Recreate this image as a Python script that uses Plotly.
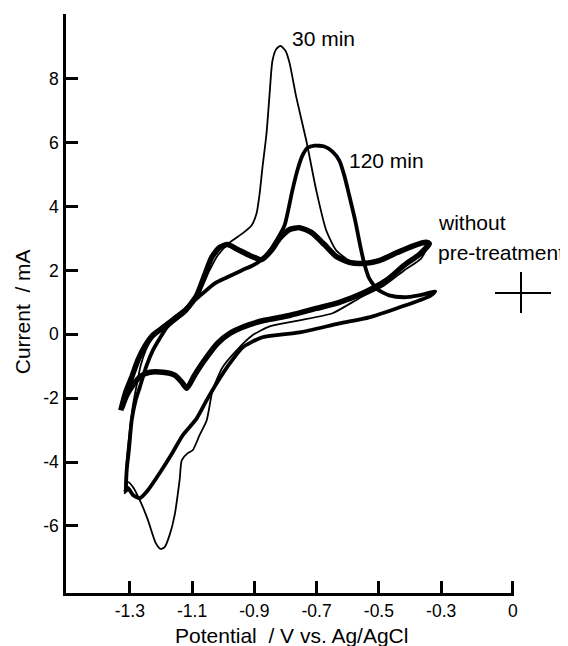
import plotly.graph_objects as go

# ---- data ----
# without pre-treatment (thick)
wo_x = [-1.329, -1.313, -1.294, -1.274, -1.252, -1.226, -1.188, -1.124, -1.085, -1.060, -1.037, -1.012,
        -0.986, -0.954, -0.915, -0.877, -0.845, -0.819, -0.787, -0.755, -0.717, -0.675, -0.637, -0.595,
        -0.547, -0.499, -0.441, -0.387, -0.348, -0.338,
        -0.370, -0.419, -0.476, -0.547, -0.627, -0.701, -0.787, -0.867, -0.931, -0.979, -1.018, -1.060,
        -1.092, -1.117, -1.133, -1.156, -1.194, -1.236, -1.265, -1.290, -1.310, -1.326]
wo_y = [-2.38, -1.81, -1.34, -0.81, -0.38, -0.03, 0.25, 0.72, 1.22, 1.84, 2.41, 2.72,
        2.81, 2.66, 2.47, 2.34, 2.63, 3.00, 3.28, 3.34, 3.19, 2.81, 2.44, 2.25,
        2.22, 2.31, 2.56, 2.78, 2.88, 2.84,
        2.50, 2.16, 1.69, 1.31, 1.00, 0.81, 0.59, 0.44, 0.25, 0.03, -0.28, -0.81,
        -1.28, -1.69, -1.50, -1.28, -1.19, -1.19, -1.31, -1.59, -1.91, -2.31]

# 120 min (medium)
m120_x = [-1.313, -1.310, -1.303, -1.294, -1.281, -1.268, -1.246, -1.226, -1.204, -1.181, -1.149, -1.108,
          -1.066, -1.028, -0.989, -0.941, -0.893, -0.861, -0.829, -0.803, -0.778, -0.762, -0.746, -0.729,
          -0.707, -0.675, -0.649, -0.627, -0.611, -0.595, -0.576, -0.560, -0.547, -0.531, -0.505, -0.467,
          -0.419, -0.371, -0.319,
          -0.338, -0.435, -0.531, -0.627, -0.755, -0.874, -0.938, -0.979, -1.021, -1.053, -1.085, -1.130,
          -1.162, -1.204, -1.242, -1.268, -1.290, -1.306, -1.316]
m120_y = [-4.94, -4.25, -3.63, -2.69, -2.06, -1.66, -0.97, -0.50, -0.13, 0.22, 0.50, 0.91,
          1.28, 1.59, 1.78, 2.00, 2.22, 2.47, 2.94, 3.41, 4.50, 5.13, 5.59, 5.84,
          5.91, 5.88, 5.72, 5.44, 4.97, 4.34, 3.56, 2.78, 2.22, 1.75, 1.41, 1.22,
          1.16, 1.22, 1.34,
          1.19, 0.84, 0.53, 0.34, 0.06, -0.09, -0.41, -0.91, -1.53, -2.06, -2.63, -3.16,
          -3.69, -4.34, -4.88, -5.13, -5.03, -4.81, -4.94]

# 30 min (thin)
m30_x = [-1.316, -1.310, -1.300, -1.290, -1.278, -1.265, -1.249, -1.229, -1.204, -1.165, -1.124, -1.092,
         -1.066, -1.044, -1.018, -0.979, -0.938, -0.909, -0.893, -0.883, -0.874, -0.861, -0.851, -0.842,
         -0.829, -0.816, -0.800, -0.787, -0.765, -0.733, -0.701, -0.669, -0.637, -0.595, -0.547, -0.492,
         -0.435, -0.377, -0.338,
         -0.364, -0.419, -0.483, -0.563, -0.649, -0.755, -0.851, -0.906, -0.957, -1.002, -1.034, -1.053,
         -1.076, -1.098, -1.114, -1.133, -1.140, -1.156, -1.172, -1.188, -1.201, -1.217, -1.242, -1.268,
         -1.290, -1.306, -1.316]
m30_y = [-5.00, -3.94, -3.00, -2.22, -1.59, -0.97, -0.50, -0.13, 0.19, 0.50, 0.81, 1.13,
         1.53, 2.00, 2.47, 2.88, 3.16, 3.41, 3.78, 4.41, 5.22, 6.28, 7.53, 8.56,
         8.94, 9.03, 8.88, 8.50, 7.41, 6.06, 4.50, 3.25, 2.63, 2.31, 2.25, 2.38,
         2.63, 2.81, 2.91,
         2.38, 2.00, 1.53, 1.13, 0.66, 0.44, 0.25, -0.03, -0.50, -1.03, -1.75, -2.69,
         -3.16, -3.63, -3.72, -3.94, -4.56, -5.66, -6.28, -6.66, -6.72, -6.53, -5.81, -5.19,
         -4.78, -4.63, -4.88]

x_tickvals = [-1.3, -1.1, -0.9, -0.7, -0.5, -0.3, -0.07]
x_ticktext = ["-1.3", "-1.1", "-0.9", "-0.7", "-0.5", "-0.3", "0"]
y_tickvals = [-6, -4, -2, 0, 2, 4, 6, 8, 10]
y_ticktext = ["-6", "-4", "-2", "0", "2", "4", "6", "8", ""]

labels = ["30 min", "120 min", "without", "pre-treatment"]
label_x = [-0.784, -0.601, -0.316, -0.316]
label_y = [9.25, 5.44, 3.50, 2.55]

FONT = "Arial, Liberation Sans, sans-serif"

fig = go.Figure()
fig.add_trace(go.Scatter(x=wo_x, y=wo_y, mode="lines",
                         line=dict(color="black", width=5.5, shape="spline", smoothing=0.6),
                         showlegend=False, hoverinfo="skip"))
fig.add_trace(go.Scatter(x=m120_x, y=m120_y, mode="lines",
                         line=dict(color="black", width=3.8, shape="spline", smoothing=0.6),
                         showlegend=False, hoverinfo="skip"))
fig.add_trace(go.Scatter(x=m30_x, y=m30_y, mode="lines",
                         line=dict(color="black", width=1.8, shape="spline", smoothing=0.6),
                         showlegend=False, hoverinfo="skip"))

for t, lx, ly in zip(labels, label_x, label_y):
    fig.add_annotation(x=lx, y=ly, xref="x", yref="y", text=t, showarrow=False,
                       xanchor="left", yanchor="middle",
                       font=dict(family=FONT, size=21, color="black"))

# axis titles
fig.add_annotation(x=0.504, y=-0.074, xref="paper", yref="paper", text="Potential  / V vs. Ag/AgCl",
                   showarrow=False, xanchor="center", yanchor="middle",
                   font=dict(family=FONT, size=21, color="black"))
fig.add_annotation(x=-0.098, y=0.485, xref="paper", yref="paper", text="Current  / mA",
                   showarrow=False, xanchor="center", yanchor="middle", textangle=-90,
                   font=dict(family=FONT, size=21, color="black"))

# scale cross
fig.add_shape(type="line", xref="paper", yref="paper", x0=0.9576, x1=1.0826, y0=0.5181, y1=0.5181,
              line=dict(color="black", width=2))
fig.add_shape(type="line", xref="paper", yref="paper", x0=1.0156, x1=1.0156, y0=0.4836, y1=0.5544,
              line=dict(color="black", width=2))

axis_common = dict(showgrid=False, zeroline=False, showline=True, linecolor="black", linewidth=2.5,
                   ticks="inside", ticklen=12, tickwidth=2.5, tickcolor="black",
                   tickfont=dict(family=FONT, size=17.5, color="black"))

fig.update_xaxes(range=[-1.505, -0.066], tickmode="array", tickvals=x_tickvals, ticktext=x_ticktext,
                 **axis_common)
fig.update_yaxes(range=[-8.1, 10.03], tickmode="array", tickvals=y_tickvals, ticktext=y_ticktext,
                 ticklabelstandoff=1, **axis_common)

fig.update_layout(width=568, height=646, margin=dict(l=58, r=62, t=6, b=61, autoexpand=False),
                  plot_bgcolor="white", paper_bgcolor="white", showlegend=False)

fig.write_html("out.html")
